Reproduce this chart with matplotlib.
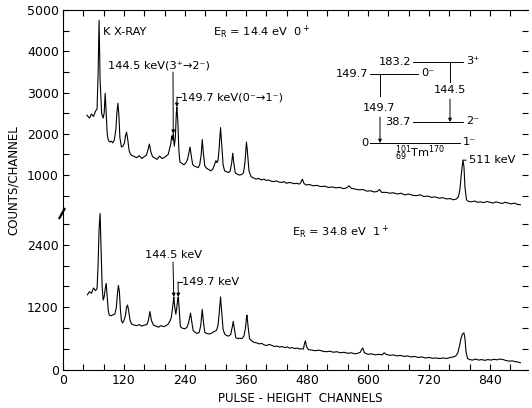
import matplotlib
matplotlib.use("Agg")
import matplotlib.pyplot as plt
from matplotlib.ticker import MultipleLocator

plt.rcParams['font.family'] = ['DejaVu Sans']
plt.rcParams['mathtext.default'] = 'regular'

# upper spectrum, E_R = 14.4 eV (channel, counts)
upper_ch = [47, 52, 56, 60, 64, 67, 69, 71, 73, 76, 79, 81, 83, 85, 87, 89, 92, 95, 98, 101,
            104, 106, 108, 110, 112, 115, 118, 121, 123, 125, 127, 130, 133, 136, 140, 145, 150, 155, 160, 164,
            167, 170, 173, 176, 180, 185, 190, 195, 200, 204, 207, 210, 212, 214, 216, 217, 219, 221, 223, 224,
            226, 228, 230, 234, 238, 242, 245, 248, 250, 252, 255, 258, 262, 266, 269, 272, 274, 276, 279, 283,
            287, 291, 295, 298, 301, 303, 305, 307, 309, 310, 312, 315, 318, 322, 326, 329, 332, 334, 336, 339,
            343, 347, 351, 355, 358, 360, 361, 363, 366, 370, 375, 380, 385, 390, 395, 400, 405, 410, 415, 420,
            425, 430, 435, 440, 445, 450, 455, 460, 465, 468, 471, 474, 478, 485, 492, 500, 507, 515, 522, 530,
            537, 545, 552, 558, 563, 567, 575, 583, 590, 598, 605, 612, 618, 623, 627, 635, 643, 650, 658, 665,
            672, 680, 688, 695, 703, 710, 718, 725, 732, 740, 748, 755, 762, 768, 774, 778, 781, 784, 787, 789,
            791, 794, 798, 804, 810, 816, 822, 828, 834, 840, 846, 852, 858, 864, 870, 876, 882, 888, 894, 900]
upper_counts = [2450, 2380, 2480, 2420, 2550, 2600, 3400, 4750, 3300, 2500, 2380, 2500, 2980, 2500, 2000, 1850, 1800, 1820, 1780, 1850,
                2100, 2500, 2740, 2450, 1900, 1680, 1700, 1780, 1950, 2040, 1900, 1600, 1500, 1470, 1450, 1420, 1470, 1400, 1450, 1480,
                1600, 1750, 1560, 1450, 1420, 1380, 1460, 1400, 1430, 1470, 1500, 1650, 1750, 1950, 1850, 2000, 1700, 1900, 2500, 2650,
                2300, 1600, 1320, 1280, 1250, 1300, 1380, 1550, 1680, 1500, 1260, 1220, 1200, 1180, 1250, 1500, 1860, 1550, 1220, 1160,
                1130, 1100, 1150, 1250, 1350, 1300, 1350, 1600, 1950, 2150, 1800, 1250, 1100, 1080, 1060, 1100, 1300, 1530, 1300, 1050,
                1020, 1000, 1010, 1050, 1300, 1650, 1800, 1550, 1100, 960, 930, 900, 920, 880, 900, 870, 880, 850, 840, 860,
                830, 820, 840, 800, 820, 810, 790, 800, 780, 820, 900, 800, 760, 770, 740, 750, 720, 730, 700, 710,
                690, 700, 670, 690, 740, 680, 660, 640, 650, 610, 620, 590, 600, 650, 580, 580, 560, 570, 540, 560,
                520, 540, 510, 500, 520, 480, 490, 460, 470, 440, 450, 420, 430, 400, 420, 470, 650, 1050, 1360, 1200,
                700, 400, 360, 350, 370, 340, 350, 330, 360, 340, 320, 350, 330, 310, 340, 320, 300, 320, 290, 280]

# lower spectrum, E_R = 34.8 eV (channel, counts)
lower_ch = [48, 52, 56, 60, 64, 67, 69, 71, 73, 75, 77, 79, 81, 83, 85, 87, 89, 91, 95, 99,
            102, 105, 107, 109, 111, 113, 115, 117, 120, 123, 125, 127, 129, 132, 135, 140, 145, 150, 155, 160,
            165, 168, 171, 174, 178, 183, 188, 193, 198, 203, 207, 210, 213, 215, 217, 218, 220, 222, 224, 226,
            227, 229, 231, 235, 240, 244, 247, 249, 251, 253, 256, 260, 264, 268, 271, 273, 274, 276, 279, 283,
            288, 293, 298, 302, 305, 307, 309, 310, 312, 315, 318, 322, 326, 330, 333, 335, 337, 340, 344, 348,
            352, 356, 359, 361, 362, 364, 367, 371, 376, 381, 386, 391, 396, 401, 406, 411, 416, 421, 426, 431,
            436, 441, 446, 451, 456, 461, 466, 470, 473, 475, 477, 479, 483, 490, 497, 504, 511, 518, 525, 532,
            539, 546, 553, 560, 567, 574, 580, 585, 588, 590, 593, 600, 607, 614, 621, 628, 632, 636, 643, 650,
            657, 664, 671, 678, 685, 692, 699, 706, 713, 720, 727, 734, 741, 748, 755, 762, 768, 773, 777, 780,
            783, 786, 789, 791, 793, 796, 800, 806, 812, 818, 824, 830, 836, 842, 848, 854, 860, 866, 872, 878,
            884, 890, 896, 900]
lower_counts = [1440, 1500, 1470, 1570, 1520, 1560, 2000, 2700, 3000, 2300, 1600, 1340, 1400, 1550, 1660, 1400, 1150, 1050, 1040, 1060,
                1070, 1200, 1450, 1620, 1500, 1150, 950, 900, 950, 1050, 1200, 1245, 1150, 950, 880, 860, 850, 870, 840, 860,
                870, 950, 1120, 950, 860, 840, 820, 850, 830, 850, 880, 930, 1000, 1150, 1300, 1400, 1200, 1070, 1200, 1380,
                1400, 1100, 830, 800, 790, 820, 900, 1000, 1090, 950, 760, 720, 700, 720, 850, 1050, 1160, 950, 720, 700,
                690, 710, 740, 760, 850, 1050, 1300, 1400, 1150, 780, 690, 660, 650, 680, 820, 930, 800, 620, 600, 610,
                600, 650, 800, 1000, 1050, 850, 600, 560, 530, 520, 500, 510, 480, 470, 490, 470, 450, 460, 440, 450,
                430, 440, 420, 430, 410, 420, 400, 410, 400, 500, 560, 450, 390, 380, 370, 380, 360, 350, 360, 340,
                350, 330, 340, 320, 330, 310, 320, 340, 400, 420, 330, 300, 310, 290, 300, 290, 330, 300, 280, 290,
                270, 280, 260, 270, 250, 260, 240, 250, 230, 240, 225, 230, 220, 230, 220, 240, 250, 270, 330, 450,
                600, 690, 710, 600, 350, 220, 200, 190, 210, 190, 200, 185, 200, 190, 205, 195, 210, 200, 180, 170,
                175, 160, 150, 140]

W, H = 532, 408
fig = plt.figure(figsize=(W / 100, H / 100), dpi=100)

left, right = 63 / W, 528 / W
y_top, y_brk, y_bot = 1 - 10 / H, 1 - 213 / H, 1 - 370 / H
ax_up = fig.add_axes([left, y_brk, right - left, y_top - y_brk])
ax_lo = fig.add_axes([left, y_bot, right - left, y_brk - y_bot])

ax_up.plot(upper_ch, upper_counts, color='k', lw=0.8)
ax_lo.plot(lower_ch, lower_counts, color='k', lw=0.8)

for ax in (ax_up, ax_lo):
    ax.set_xlim(0, 915)
    ax.spines['right'].set_visible(False)
    ax.tick_params(which='both', direction='in', length=4, width=0.8, labelsize=9, pad=3,
                   right=True, top=(ax is ax_up), bottom=(ax is ax_lo))
    ax.xaxis.set_major_locator(MultipleLocator(120))
    ax.xaxis.set_minor_locator(MultipleLocator(40))

ax_up.spines['bottom'].set_visible(False)
ax_up.set_ylim(80, 5000)
ax_up.yaxis.set_major_locator(MultipleLocator(1000))
ax_up.yaxis.set_minor_locator(MultipleLocator(500))
ax_up.tick_params(labelbottom=False)

ax_lo.spines['top'].set_visible(False)
ax_lo.set_ylim(0, 3008)
ax_lo.yaxis.set_major_locator(MultipleLocator(1200))
ax_lo.yaxis.set_minor_locator(MultipleLocator(400))
ax_lo.set_xticks(range(0, 841, 120))

# overlay in pixel coordinates for labels and the level scheme
ov = fig.add_axes([0, 0, 1, 1])
ov.set_xlim(0, W)
ov.set_ylim(H, 0)
ov.axis('off')

fs = 8.2
ov.text(13, 180, 'COUNTS/CHANNEL', rotation=90, ha='center', va='center', fontsize=8.5)
ov.text(300, 398, 'PULSE - HEIGHT  CHANNELS', ha='center', va='center', fontsize=8.5)

# axis break mark
ov.plot([59.5, 64.5], [218, 209], color='k', lw=1.6)

ov.text(103, 32, 'K X-RAY', ha='left', va='center', fontsize=fs)
ov.text(213, 32, 'E$_R$ = 14.4 eV  0$^+$', ha='left', va='center', fontsize=fs)
ov.text(292, 232, 'E$_R$ = 34.8 eV  1$^+$', ha='left', va='center', fontsize=fs)

arrow = dict(arrowstyle='-|>', lw=0.7, color='k', mutation_scale=5, shrinkA=0, shrinkB=0)
line = dict(arrowstyle='-', lw=0.7, color='k', shrinkA=0, shrinkB=0)

# upper panel peak labels
ov.text(108, 65, '144.5 keV(3⁺→2⁻)', ha='left', va='center', fontsize=fs)
ax_up.annotate('', xy=(217, 2000), xytext=(173, 72), textcoords=ov.transData, arrowprops=arrow)
ov.text(181, 97, '149.7 keV(0⁻→1⁻)', ha='left', va='center', fontsize=fs)
ov.plot([181, 177], [97, 97], color='k', lw=0.7)
ax_up.annotate('', xy=(224, 2650), xytext=(177, 97), textcoords=ov.transData, arrowprops=arrow)
ax_up.annotate('511 keV', xy=(787, 1360), xytext=(469, 160), textcoords=ov.transData,
               ha='left', va='center', fontsize=fs, arrowprops=line)

# lower panel peak labels
ov.text(145, 255, '144.5 keV', ha='left', va='center', fontsize=fs)
ax_lo.annotate('', xy=(218, 1400), xytext=(173, 262), textcoords=ov.transData, arrowprops=arrow)
ov.text(182, 282, '149.7 keV', ha='left', va='center', fontsize=fs)
ov.plot([182, 178], [282, 282], color='k', lw=0.7)
ax_lo.annotate('', xy=(227, 1400), xytext=(178, 282), textcoords=ov.transData, arrowprops=arrow)

# level scheme of 170Tm
levels = [('183.2', '3⁺', 413, 463, 62),
          ('149.7', '0⁻', 370, 418, 74),
          ('38.7', '2⁻', 413, 463, 122),
          ('0', '1⁻', 370, 460, 143)]
for e, jp, x0, x1, y in levels:
    ov.plot([x0, x1], [y, y], color='k', lw=0.7)
    ov.text(x0 - 2, y, e, ha='right', va='center', fontsize=fs)
    ov.text(x1 + 3, y - 1, jp, ha='left', va='center', fontsize=fs)

ov.plot([450, 450], [62, 82], color='k', lw=0.7)
ov.text(450, 90, '144.5', ha='center', va='center', fontsize=fs)
ov.annotate('', xy=(450, 122), xytext=(450, 99), arrowprops=arrow)
ov.plot([380, 380], [74, 96], color='k', lw=0.7)
ov.text(379, 108, '149.7', ha='center', va='center', fontsize=fs)
ov.annotate('', xy=(380, 143), xytext=(380, 117), arrowprops=arrow)
ov.text(420, 153, r'${}^{101}_{69}$Tm$^{170}$', ha='center', va='center', fontsize=fs)

fig.savefig('out.png', dpi=100)
